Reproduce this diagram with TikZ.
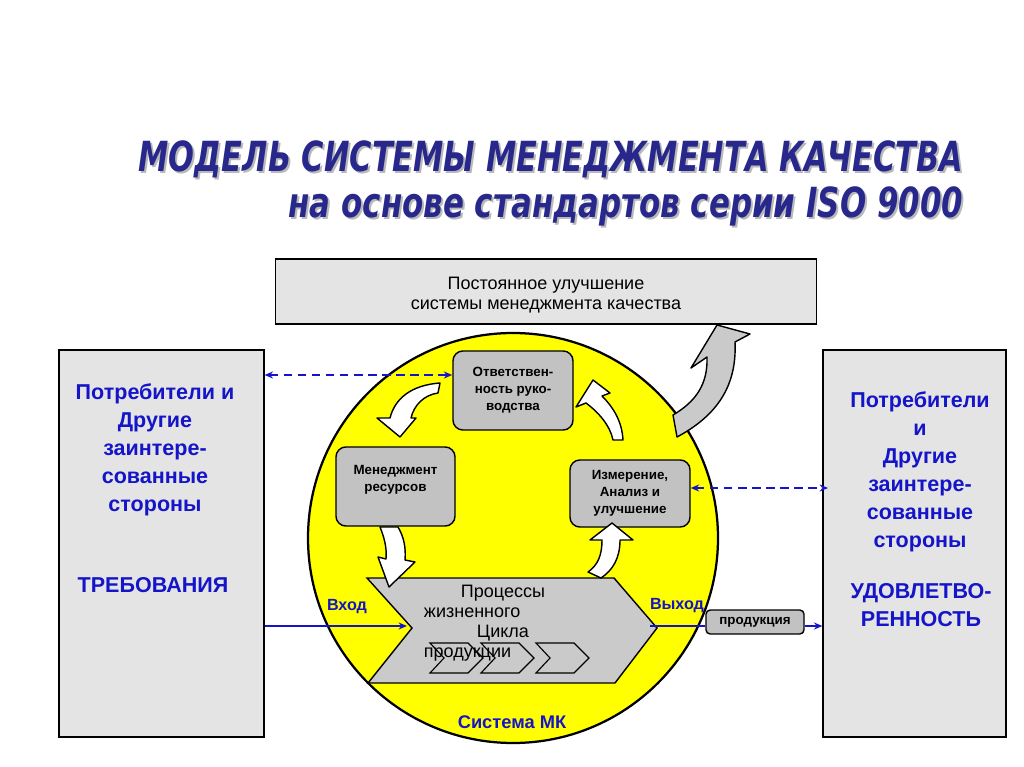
\documentclass[tikz,border=0pt]{standalone}
\usepackage{fontspec}
\setmainfont{Liberation Sans}
\newfontfamily\titlefont{DejaVu Sans}
\usepackage{graphicx}
\usetikzlibrary{arrows.meta,positioning}

\definecolor{titleblue}{RGB}{40,40,140}
\definecolor{textblue}{RGB}{20,20,200}
\definecolor{panelgray}{RGB}{228,228,228}
\definecolor{boxgray}{RGB}{194,194,194}
\definecolor{procgray}{RGB}{202,202,202}
\definecolor{mkyellow}{RGB}{255,255,0}

\tikzset{
  panel/.style={draw=black, fill=panelgray, line width=0.8pt},
  stage/.style={draw=black, fill=boxgray, rounded corners=7pt, line width=1pt},
  stagetxt/.style={align=center, font=\bfseries\fontsize{9.5}{12}\selectfont},
  sidetxt/.style={text=textblue, align=center, font=\bfseries\fontsize{15.3}{20}\selectfont},
  titletxt/.style={anchor=base east, font=\titlefont\bfseries\itshape\fontsize{29.5}{32}\selectfont},
  flow/.style={-{Stealth[length=6pt,width=5pt]}, textblue, line width=1pt},
  link/.style={{Stealth[length=6pt,width=5pt]}-{Stealth[length=6pt,width=5pt]}, textblue, dash pattern=on 6pt off 4pt, line width=1.2pt},
  bendarrow/.style={draw=black, fill=white, line width=1pt, line join=round},
}

\begin{document}
\begin{tikzpicture}[x=0.025cm, y=-0.025cm]
  \useasboundingbox (0,0) rectangle (1024,767);

  % title with shadow
  \node[titletxt, text=gray!55] at (970,174) {\scalebox{0.734}[1]{МОДЕЛЬ СИСТЕМЫ МЕНЕДЖМЕНТА КАЧЕСТВА}};
  \node[titletxt, text=titleblue] (title1) at (968,172) {\scalebox{0.734}[1]{МОДЕЛЬ СИСТЕМЫ МЕНЕДЖМЕНТА КАЧЕСТВА}};
  \node[titletxt, text=gray!55] at (970,220) {\scalebox{0.745}[1]{на основе стандартов серии ISO 9000}};
  \node[titletxt, text=titleblue] (title2) at (968,218) {\scalebox{0.745}[1]{на основе стандартов серии ISO 9000}};

  % panels
  \node[panel, minimum width=13.5cm, minimum height=1.625cm, align=center,
        font=\fontsize{12.8}{14.2}\selectfont] (improve) at (546,291.5) {};
  \node[align=center, font=\fontsize{12.8}{14.2}\selectfont] (improvetxt) at (546,295.5)
        {Постоянное улучшение\\системы менеджмента качества};
  \node[panel, minimum width=5.125cm, minimum height=9.675cm] (lbox) at (161.5,543.5) {};
  \node[panel, minimum width=4.575cm, minimum height=9.675cm] (rbox) at (914.5,543.5) {};
  \node[sidetxt] (lneeds) at (155,450) {Потребители и\\Другие\\заинтере-\\сованные\\стороны};
  \node[sidetxt] (lreq) at (153,585) {ТРЕБОВАНИЯ};
  \node[sidetxt] (rneeds) at (920,472) {Потребители\\и\\Другие\\заинтере-\\сованные\\стороны};
  \node[sidetxt] (rsat) at (921,605) {УДОВЛЕТВО-\\РЕННОСТЬ};

  % system circle
  \draw[fill=mkyellow, line width=1.6pt] (513,538) circle[radius=205];

  % improvement arrow
  \draw[fill=procgray, line width=1pt, line join=round]
    (677,437) .. controls (718,415) and (737,385) .. (735,342) -- (750,334) -- (717,325)
    -- (691,368) -- (707,357) .. controls (708,385) and (695,402) .. (673,415) -- cycle;

  % stages
  \node[stage, minimum width=3cm, minimum height=1.975cm] (resp) at (513,390.5) {};
  \node[stagetxt] at (resp) {Ответствен-\\ность руко-\\водства};
  \node[stage, minimum width=2.975cm, minimum height=1.975cm] (res) at (395.5,486.5) {};
  \node[stagetxt, below=0.36cm of res.north] {Менеджмент\\ресурсов};
  \node[stage, minimum width=3cm, minimum height=1.675cm] (meas) at (630,493.5) {};
  \node[stagetxt] at (meas) {Измерение,\\Анализ и\\улучшение};

  % life cycle chevron
  \draw[fill=procgray, line width=1pt, line join=miter]
    (367,578) -- (614,578) -- (657,628) coordinate (tip) -- (615,683) -- (368,683)
    -- (412,628) coordinate (notch) -- cycle;
  \foreach \x in {430,481,536}
    \draw[line width=0.8pt] (\x,643) -- (\x+38,643) -- (\x+53,658) -- (\x+38,673) -- (\x,673) -- (\x+14,658) -- cycle;
  \begin{scope}[every node/.style={anchor=base west, font=\fontsize{12.8}{14}\selectfont}]
    \node (lc1) at (456,597) {Процессы};
    \node (lc2) at (419,617) {жизненного};
    \node (lc3) at (472,637) {Цикла};
    \node (lc4) at (419,657) {продукции};
  \end{scope}

  % cycle arrows
  \draw[bendarrow] (440,383) .. controls (412,385) and (395,398) .. (390,418) -- (377,418) -- (400,437)
    -- (416,418) -- (411,418) .. controls (414,405) and (424,395) .. (438,393) -- cycle;
  \draw[bendarrow] (613,440) .. controls (610,425) and (598,412) .. (586,403) -- (576,407) -- (593,380)
    -- (610,393) -- (602,396) .. controls (614,408) and (622,422) .. (623,440) -- cycle;
  \draw[bendarrow] (380,527) -- (398,527) .. controls (404,537) and (406,548) .. (405,560) -- (415,562)
    -- (389,587) -- (378,557) -- (386,559) .. controls (387,547) and (384,537) .. (380,527) -- cycle;
  \draw[bendarrow] (588,572) .. controls (598,565) and (602,555) .. (602,540) -- (590,540) -- (612,523)
    -- (633,540) -- (620,540) .. controls (620,558) and (613,570) .. (601,578) -- cycle;

  % dashed links to interested parties
  \coordinate (lk) at (0,375);
  \coordinate (rk) at (0,488);
  \draw[link] (lbox.east |- lk) -- (resp.west |- lk);
  \draw[link] (meas.east |- rk) -- ([xshift=4pt]rbox.west |- rk);

  % input / output
  \node[draw=black, fill=boxgray, rounded corners=3pt, line width=1pt, minimum width=2.45cm,
        minimum height=0.6cm, font=\bfseries\fontsize{9.5}{11}\selectfont] (prod) at (755,622) {продукция};
  \coordinate (ent) at (407,626);
  \coordinate (ext) at (650,626);
  \draw[flow] (lbox.east |- ent) -- (ent);
  \draw[textblue, line width=1pt] (ext) -- (prod.west |- ext);
  \draw[flow] (prod.east |- ext) -- (rbox.west |- ext);
  \node[text=textblue, font=\bfseries\fontsize{11.5}{13}\selectfont] (inlbl) at (347,607) {Вход};
  \node[text=textblue, font=\bfseries\fontsize{11.5}{13}\selectfont] (outlbl) at (677,606) {Выход};
  \node[text=textblue, font=\bfseries\fontsize{13}{15}\selectfont] (mk) at (512,722) {Система МК};
\end{tikzpicture}
\end{document}
